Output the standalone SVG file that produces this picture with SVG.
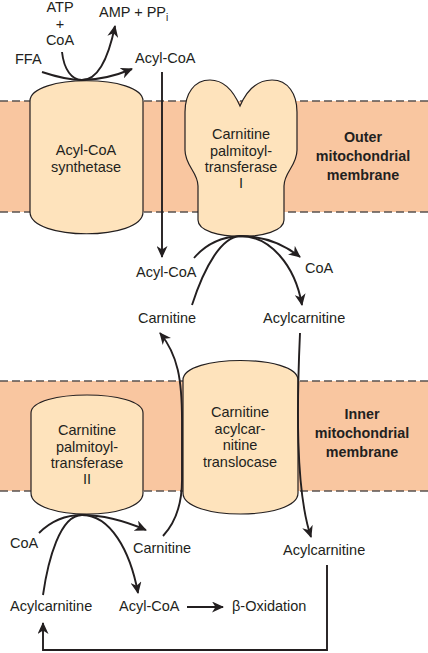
<svg xmlns="http://www.w3.org/2000/svg" width="428" height="653" viewBox="0 0 428 653">
<defs>
<style>
.band{fill:#F9C6A0;}
.dash{stroke:#5a5350;stroke-width:1.3;stroke-dasharray:8 4;fill:none;}
.node{fill:#FEE3BC;stroke:#231F20;stroke-width:1.2;}
.t{font-family:"Liberation Sans",Arial,Helvetica,sans-serif;font-size:14.5px;fill:#231F20;}
.c{text-anchor:middle;}
.b{font-weight:bold;font-size:14.3px;}
.ln{fill:none;stroke:#231F20;stroke-width:1.9;}
.arr{marker-end:url(#ah);}
</style>
<marker id="ah" markerUnits="userSpaceOnUse" markerWidth="13" markerHeight="11" viewBox="0 0 13 11" refX="11" refY="5.5" orient="auto">
<path d="M0,0 L12,5.5 L0,11 L3.5,5.5 Z" fill="#231F20"/>
</marker>
</defs>
<rect width="428" height="653" fill="#fff"/>
<g id="membranes">
<rect class="band" x="0" y="101" width="428" height="111"/>
<rect class="band" x="0" y="381" width="428" height="110"/>
<line class="dash" x1="0" y1="101" x2="428" y2="101"/>
<line class="dash" x1="0" y1="212" x2="428" y2="212"/>
<line class="dash" x1="0" y1="381" x2="428" y2="381"/>
<line class="dash" x1="0" y1="491" x2="428" y2="491"/>
<text class="t c b" x="363" y="142">Outer</text>
<text class="t c b" x="363" y="161">mitochondrial</text>
<text class="t c b" x="363" y="180">membrane</text>
<text class="t c b" x="362" y="419">Inner</text>
<text class="t c b" x="362" y="438">mitochondrial</text>
<text class="t c b" x="362" y="457">membrane</text>
</g>
<g id="acyl-coa-synthetase">
<path class="node" d="M30,101 C30,74 143,74 143,101 L143,212 C143,241 30,241 30,212 Z"/>
<text class="t c" x="86" y="155">Acyl-CoA</text>
<text class="t c" x="86" y="172">synthetase</text>
</g>
<g id="cpt1">
<path class="node" d="M240,106 C233,90 224,80 210,80 C194,80 185,94 185,112 L185,150 C185,166 198,172 198,186 L198,220 C198,242 284,242 284,220 L284,186 C284,172 297,166 297,150 L297,112 C297,94 288,80 272,80 C257,80 247,90 240,106 Z"/>
<text class="t c" x="241" y="139">Carnitine</text>
<text class="t c" x="241" y="155.5">palmitoyl-</text>
<text class="t c" x="241" y="172">transferase</text>
<text class="t c" x="241" y="188">I</text>
</g>
<g id="cpt2">
<path class="node" d="M31,413 C31,389 143,389 143,413 L143,493 C143,521 31,521 31,493 Z"/>
<text class="t c" x="87" y="435">Carnitine</text>
<text class="t c" x="87" y="451.5">palmitoyl-</text>
<text class="t c" x="87" y="467.5">transferase</text>
<text class="t c" x="87" y="484">II</text>
</g>
<g id="translocase">
<path class="node" d="M183,380 C183,354 298,354 298,380 L298,493 C298,521 183,521 183,493 Z"/>
<text class="t c" x="240" y="417">Carnitine</text>
<text class="t c" x="240" y="433.5">acylcar-</text>
<text class="t c" x="240" y="450">nitine</text>
<text class="t c" x="240" y="467">translocase</text>
</g>
<g id="labels">
<text class="t c" x="60" y="12">ATP</text>
<text class="t c" x="60" y="29">+</text>
<text class="t c" x="60" y="45">CoA</text>
<text class="t" x="99" y="17">AMP + PP<tspan font-size="10" dy="4">i</tspan></text>
<text class="t" x="15" y="64">FFA</text>
<text class="t" x="135" y="63">Acyl-CoA</text>
<text class="t" x="136" y="277">Acyl-CoA</text>
<text class="t" x="305" y="273">CoA</text>
<text class="t" x="138" y="323">Carnitine</text>
<text class="t" x="263" y="323">Acylcarnitine</text>
<text class="t" x="10" y="548">CoA</text>
<text class="t" x="133" y="553">Carnitine</text>
<text class="t" x="283" y="555">Acylcarnitine</text>
<text class="t" x="10" y="611">Acylcarnitine</text>
<text class="t" x="119" y="611">Acyl-CoA</text>
<text class="t" x="232" y="611">β-Oxidation</text>
</g>
<g id="connectors">
<path class="ln arr" d="M42,72 C60,78 70,80 82,80 C100,80 115,76 132,69"/>
<path class="ln arr" d="M62,52 C64,70 72,80 82,80 C98,80 108,60 115,26"/>
<path class="ln arr" d="M162,72 L162,257"/>
<path class="ln arr" d="M194,258 C205,245 220,237 240,236 C265,236 285,245 300,257"/>
<path class="ln arr" d="M192,305 C205,265 222,237 240,236 C270,236 295,265 302,305"/>
<path class="ln arr" d="M300,333 C297,400 295,490 311,537"/>
<path class="ln arr" d="M163,536 C176,522 182,505 182,480 L182,420 C182,380 178,355 160,333"/>
<path class="ln arr" d="M39,533 C50,522 65,515 82,515 C105,515 125,521 146,530"/>
<path class="ln arr" d="M43,595 C48,560 60,515 82,515 C110,515 130,550 138,593"/>
<path class="ln arr" d="M187,607 L223,607"/>
<path class="ln arr" d="M327,565 L327,650 L43,650 L43,623"/>
</g>
</svg>
